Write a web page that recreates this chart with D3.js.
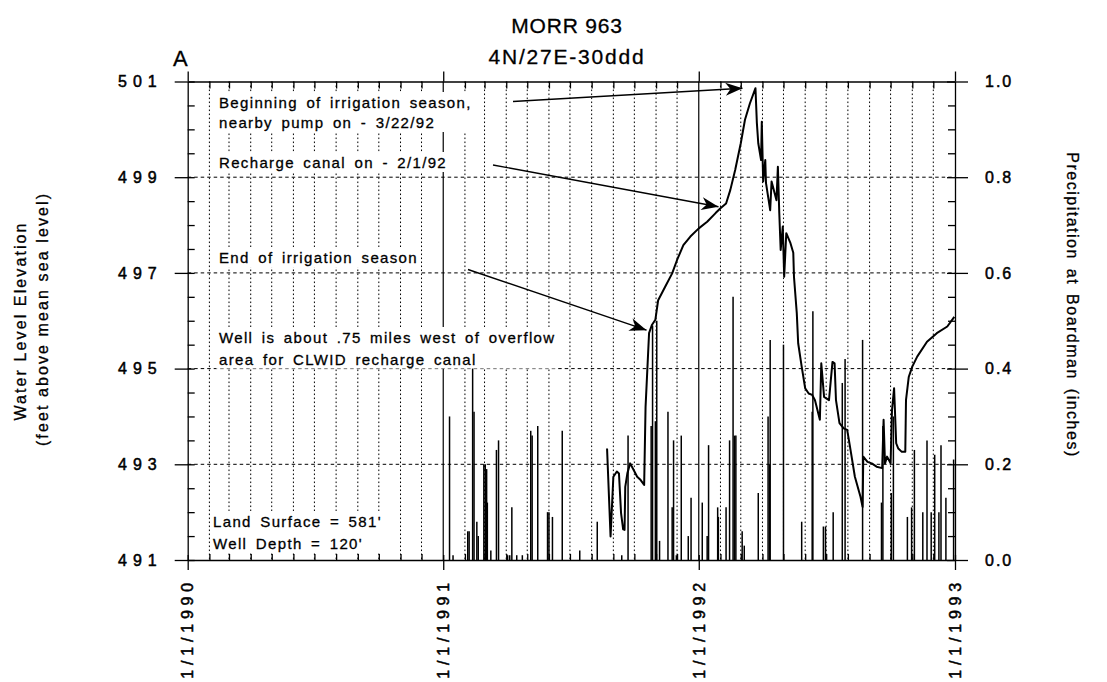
<!DOCTYPE html>
<html>
<head>
<meta charset="utf-8">
<script src="https://cdn.jsdelivr.net/npm/d3@7"></script>
<style>
  body { margin: 0; background: #fff; }
  svg { display: block; }
  text { font-family: "Liberation Sans", Arial, Helvetica, sans-serif; fill: #000; stroke: #000; stroke-width: 0.3px; }
  .ticklab text, text.ticklab { stroke-width: 0.5px; }
</style>
</head>
<body>
<svg id="chart" width="1107" height="682"></svg>
<script>
// Water level in well MORR 963 (feet above mean sea level)
const levelDates = ["1991-08-23","1991-08-28","1991-09-01","1991-09-06","1991-09-09","1991-09-12","1991-09-15","1991-09-17","1991-09-18","1991-09-21","1991-09-25","1991-09-30","1991-10-05","1991-10-10","1991-10-15","1991-10-17","1991-10-22","1991-10-26","1991-10-31","1991-11-04","1991-11-14","1991-11-24","1991-12-01","1991-12-10","1991-12-20","1992-01-01","1992-01-13","1992-01-25","1992-02-01","1992-02-09","1992-02-15","1992-02-22","1992-03-01","1992-03-07","1992-03-14","1992-03-22","1992-03-24","1992-03-26","1992-03-30","1992-03-31","1992-04-02","1992-04-05","1992-04-06","1992-04-12","1992-04-14","1992-04-21","1992-04-23","1992-04-25","1992-04-27","1992-04-30","1992-05-02","1992-05-05","1992-05-11","1992-05-15","1992-05-16","1992-05-20","1992-05-22","1992-05-27","1992-06-01","1992-06-06","1992-06-11","1992-06-15","1992-06-22","1992-06-24","1992-06-28","1992-07-05","1992-07-10","1992-07-13","1992-07-15","1992-07-20","1992-07-26","1992-07-31","1992-08-04","1992-08-11","1992-08-19","1992-08-22","1992-08-23","1992-08-29","1992-09-04","1992-09-11","1992-09-19","1992-09-21","1992-09-23","1992-09-26","1992-10-01","1992-10-03","1992-10-06","1992-10-09","1992-10-12","1992-10-17","1992-10-22","1992-10-23","1992-10-27","1992-11-01","1992-11-08","1992-11-22","1992-12-06","1992-12-21","1992-12-31"];
const levelValues = [493.33,491.49,492.74,492.85,492.81,491.98,491.64,491.63,492.53,492.81,493.02,492.88,492.74,492.67,492.57,494.20,495.74,495.91,496.02,496.43,496.71,496.99,497.27,497.58,497.76,497.93,498.07,498.25,498.35,498.45,498.73,499.15,499.71,500.20,500.54,500.86,500.13,499.71,499.36,500.16,498.91,499.36,498.88,498.31,498.91,498.52,499.22,498.25,497.48,497.97,496.92,497.83,497.62,497.42,496.92,496.16,495.53,495.04,494.59,494.48,494.45,494.34,493.93,495.11,494.41,494.34,495.14,495.11,494.34,493.86,493.75,493.72,493.37,492.74,492.32,492.11,493.16,493.05,493.02,492.95,492.92,493.93,493.02,493.16,493.02,494.13,494.59,493.44,493.33,493.26,493.26,494.34,494.83,495.04,495.25,495.56,495.74,495.88,496.08];

// Daily precipitation at Boardman (inches)
const precipDates = ["1991-01-10","1991-01-15","1991-02-05","1991-02-07","1991-02-12","1991-02-14","1991-02-18","1991-02-20","1991-02-28","1991-03-02","1991-03-04","1991-03-05","1991-03-10","1991-03-18","1991-03-21","1991-04-03","1991-04-06","1991-04-09","1991-04-16","1991-04-24","1991-05-06","1991-05-08","1991-05-16","1991-05-30","1991-06-01","1991-06-06","1991-06-20","1991-07-15","1991-08-09","1991-09-13","1991-09-22","1991-10-25","1991-10-27","1991-10-31","1991-11-02","1991-11-06","1991-11-18","1991-11-24","1991-11-26","1991-11-30","1991-12-07","1991-12-17","1991-12-21","1992-01-06","1992-01-13","1992-01-15","1992-01-28","1992-01-29","1992-02-09","1992-02-14","1992-02-19","1992-02-21","1992-02-23","1992-03-03","1992-03-06","1992-03-26","1992-04-09","1992-04-11","1992-04-12","1992-05-01","1992-05-27","1992-06-11","1992-06-12","1992-06-27","1992-06-30","1992-07-11","1992-07-24","1992-07-28","1992-08-22","1992-09-18","1992-09-20","1992-10-02","1992-10-05","1992-10-25","1992-10-31","1992-11-04","1992-11-16","1992-11-22","1992-11-28","1992-12-03","1992-12-09","1992-12-12","1992-12-19","1992-12-30"];
const precipValues = [0.30,0.01,0.06,0.06,0.40,0.31,0.08,0.05,0.20,0.20,0.19,0.12,0.02,0.23,0.25,0.01,0.01,0.11,0.01,0.01,0.27,0.26,0.28,0.10,0.10,0.09,0.27,0.02,0.08,0.01,0.26,0.28,0.49,0.29,0.50,0.04,0.31,0.11,0.25,0.01,0.26,0.05,0.13,0.12,0.05,0.24,0.11,0.09,0.11,0.25,0.55,0.26,0.26,0.06,0.03,0.14,0.30,0.20,0.46,0.45,0.08,0.31,0.52,0.07,0.07,0.10,0.37,0.42,0.46,0.12,0.28,0.14,0.30,0.09,0.11,0.23,0.10,0.25,0.10,0.22,0.10,0.24,0.13,0.21];

// Axis ticks and labels
const levelTicks = [491, 493, 495, 497, 499, 501];
const precipTicks = [0, 0.2, 0.4, 0.6, 0.8, 1.0];
const yearTickDates = ["1990-01-01", "1991-01-01", "1992-01-01", "1993-01-01"];
const yearTickLabels = ["1/1/1990", "1/1/1991", "1/1/1992", "1/1/1993"];

const parse = d3.timeParse("%Y-%m-%d");
const level = levelDates.map((d, i) => ({ date: parse(d), value: levelValues[i] }));
const precip = precipDates.map((d, i) => ({ date: parse(d), value: precipValues[i] }));
const years = yearTickDates.map(parse);

const svg = d3.select("#chart");
const FONT = '"Liberation Sans", Arial, Helvetica, sans-serif';
const plotL = 187.7, plotR = 955, plotT = 81.5, plotB = 560;

const x = d3.scaleTime().domain([years[0], years[years.length - 1]]).range([plotL, plotR]);
const yL = d3.scaleLinear().domain([491, 501]).range([plotB, plotT]);
const yR = d3.scaleLinear().domain([0, 1]).range([plotB, plotT]);

// ---- grid ----
const months = d3.timeMonth.range(years[0], years[years.length - 1]).filter(d => d.getMonth() !== 0);
const grid = svg.append("g").attr("stroke", "#000").attr("fill", "none");
grid.selectAll(".vgrid").data(months).join("line")
  .attr("x1", d => x(d)).attr("x2", d => x(d))
  .attr("y1", plotT).attr("y2", plotB)
  .attr("stroke-width", 1).attr("stroke-dasharray", "1.6,2.4");
grid.selectAll(".hgrid").data(levelTicks.slice(1, -1)).join("line")
  .attr("x1", plotL).attr("x2", plotR)
  .attr("y1", d => yL(d)).attr("y2", d => yL(d))
  .attr("stroke-width", 1).attr("stroke-dasharray", "3.5,3");
grid.selectAll(".ygrid").data(years.slice(1, -1)).join("line")
  .attr("x1", d => x(d)).attr("x2", d => x(d))
  .attr("y1", plotT).attr("y2", plotB)
  .attr("stroke-width", 1.2);

// ---- annotation text blocks (white backed) ----
const notes = [
  { x: 219, y: 108, lines: ["Beginning of irrigation season,", "nearby pump on - 3/22/92"], lh: 20 },
  { x: 219, y: 168, lines: ["Recharge canal on - 2/1/92"], lh: 20 },
  { x: 219, y: 263, lines: ["End of irrigation season"], lh: 20 },
  { x: 219, y: 343, lines: ["Well is about .75 miles west of overflow", "area for CLWID recharge canal"], lh: 21.5 },
  { x: 213, y: 527, lines: ["Land Surface = 581'", "Well Depth = 120'"], lh: 21.5 }
];
const noteLayer = svg.append("g");
notes.forEach(n => {
  const g = noteLayer.append("g");
  const rect = g.append("rect").attr("fill", "#fff");
  const t = g.append("text")
    .attr("font-size", 15).attr("letter-spacing", "1.35px").attr("word-spacing", "3px")
    .attr("font-family", FONT);
  n.lines.forEach((s, i) => {
    t.append("tspan").attr("x", n.x).attr("y", n.y + i * n.lh).text(s);
  });
  const b = t.node().getBBox();
  rect.attr("x", b.x - 3).attr("y", b.y - 2).attr("width", b.width + 3).attr("height", b.height + 3);
});

// ---- precipitation bars (right axis) ----
svg.append("g").attr("stroke", "#000").attr("stroke-width", 1.5)
  .selectAll("line").data(precip).join("line")
  .attr("x1", d => x(d.date)).attr("x2", d => x(d.date))
  .attr("y1", yR(0)).attr("y2", d => yR(d.value));

// ---- water level line (left axis) ----
svg.append("path").datum(level)
  .attr("fill", "none").attr("stroke", "#000").attr("stroke-width", 2)
  .attr("stroke-linejoin", "round")
  .attr("d", d3.line().x(d => x(d.date)).y(d => yL(d.value)));

// ---- arrows ----
const defs = svg.append("defs");
defs.append("marker").attr("id", "head")
  .attr("markerUnits", "userSpaceOnUse").attr("markerWidth", 20).attr("markerHeight", 16)
  .attr("viewBox", "-18 -8 20 16").attr("refX", 0).attr("refY", 0).attr("orient", "auto")
  .append("path").attr("d", "M0,0 L-17,-6.5 L-12,0 L-17,6.5 Z").attr("fill", "#000");

const byDate = s => level.find(d => +d.date === +parse(s));
const peak = byDate("1992-03-22"), canal = byDate("1992-02-01"), fall = byDate("1991-10-22");
const arrows = [
  { from: [513, 101.5], to: [x(peak.date) - 13, yL(peak.value)] },
  { from: [493, 165], to: [x(canal.date) - 2, yL(canal.value) - 1.5] },
  { from: [468, 269.5], to: [x(fall.date) - 2.5, yL(fall.value) - 3] }
];
svg.append("g").selectAll("line").data(arrows).join("line")
  .attr("x1", d => d.from[0]).attr("y1", d => d.from[1])
  .attr("x2", d => d.to[0]).attr("y2", d => d.to[1])
  .attr("stroke", "#000").attr("stroke-width", 1.4)
  .attr("marker-end", "url(#head)");

// ---- axes ----
function styleAxis(g) {
  g.attr("font-family", FONT).attr("font-size", 16).classed("ticklab", true);
  g.selectAll("path.domain").attr("stroke-width", 1.3);
  g.selectAll(".tick line").attr("stroke-width", 1.3);
}
const minorLevel = d3.range(491, 501.01, 0.5).filter(v => !levelTicks.includes(v));
const minorPrecip = d3.range(0, 1.001, 0.05).map(v => +v.toFixed(2)).filter(v => !precipTicks.some(t => Math.abs(t - v) < 1e-6));

// left axis: majors crossing, minors inward
const gL = svg.append("g").attr("transform", `translate(${plotL},0)`)
  .call(d3.axisLeft(yL).tickValues(levelTicks).tickSize(13).tickSizeOuter(0).tickPadding(12).tickFormat(d3.format("d")))
  .call(styleAxis);
gL.selectAll(".tick line").attr("x1", 7);
gL.selectAll(".tick text").attr("letter-spacing", "6px");
svg.append("g").attr("transform", `translate(${plotL},0)`)
  .call(d3.axisRight(yL).tickValues(minorLevel).tickSize(7).tickSizeOuter(0).tickFormat(""))
  .call(styleAxis).call(g => g.select(".domain").remove());

// right axis
const gR = svg.append("g").attr("transform", `translate(${plotR},0)`)
  .call(d3.axisRight(yR).tickValues(precipTicks).tickSize(13).tickSizeOuter(0).tickPadding(17).tickFormat(d3.format(".1f")))
  .call(styleAxis);
gR.selectAll(".tick line").attr("x1", -8);
gR.selectAll(".tick text").attr("letter-spacing", "2px");
svg.append("g").attr("transform", `translate(${plotR},0)`)
  .call(d3.axisLeft(yR).tickValues(minorPrecip).tickSize(7).tickSizeOuter(0).tickFormat(""))
  .call(styleAxis).call(g => g.select(".domain").remove());

// bottom axis
const gB = svg.append("g").attr("transform", `translate(0,${plotB})`)
  .call(d3.axisBottom(x).tickValues(years).tickSize(10).tickSizeOuter(0).tickFormat(""))
  .call(styleAxis);
gB.selectAll(".tick line").attr("y1", -5);
svg.append("g").attr("transform", `translate(0,${plotB})`)
  .call(d3.axisTop(x).tickValues(months).tickSize(6).tickSizeOuter(0).tickFormat(""))
  .call(styleAxis).call(g => g.select(".domain").remove());

// top axis
svg.append("g").attr("transform", `translate(0,${plotT})`)
  .call(d3.axisTop(x).tickValues(years).tickSize(10).tickSizeOuter(0).tickFormat(""))
  .call(styleAxis);
svg.append("g").attr("transform", `translate(0,${plotT})`)
  .call(d3.axisBottom(x).tickValues(months).tickSize(7).tickSizeOuter(0).tickFormat(""))
  .call(styleAxis).call(g => g.select(".domain").remove());

// rotated date labels
svg.append("g").selectAll("text").data(years).join("text")
  .attr("class", "ticklab")
  .attr("transform", d => `translate(${x(d)},578) rotate(-90)`)
  .attr("text-anchor", "end").attr("dy", "0.36em")
  .attr("font-size", 16).attr("letter-spacing", "4.8px")
  .text((d, i) => yearTickLabels[i]);

// ---- titles ----
svg.append("text").attr("x", 567).attr("y", 33).attr("text-anchor", "middle")
  .attr("font-size", 21).attr("letter-spacing", "0.8px").text("MORR 963");
svg.append("text").attr("x", 567).attr("y", 64).attr("text-anchor", "middle")
  .attr("font-size", 21).attr("letter-spacing", "1.8px").text("4N/27E-30ddd");
svg.append("text").attr("x", 173).attr("y", 66).attr("font-size", 22).text("A");

svg.append("text").attr("transform", "translate(26,321) rotate(-90)")
  .attr("text-anchor", "middle").attr("font-size", 16).attr("letter-spacing", "2.1px")
  .text("Water Level Elevation");
svg.append("text").attr("transform", "translate(48,319) rotate(-90)")
  .attr("text-anchor", "middle").attr("font-size", 16).attr("letter-spacing", "2.1px")
  .text("(feet above mean sea level)");
svg.append("text").attr("transform", "translate(1067,305) rotate(90)")
  .attr("text-anchor", "middle").attr("font-size", 16).attr("letter-spacing", "1.5px").attr("word-spacing", "3px")
  .text("Precipitation at Boardman (inches)");
</script>
</body>
</html>
